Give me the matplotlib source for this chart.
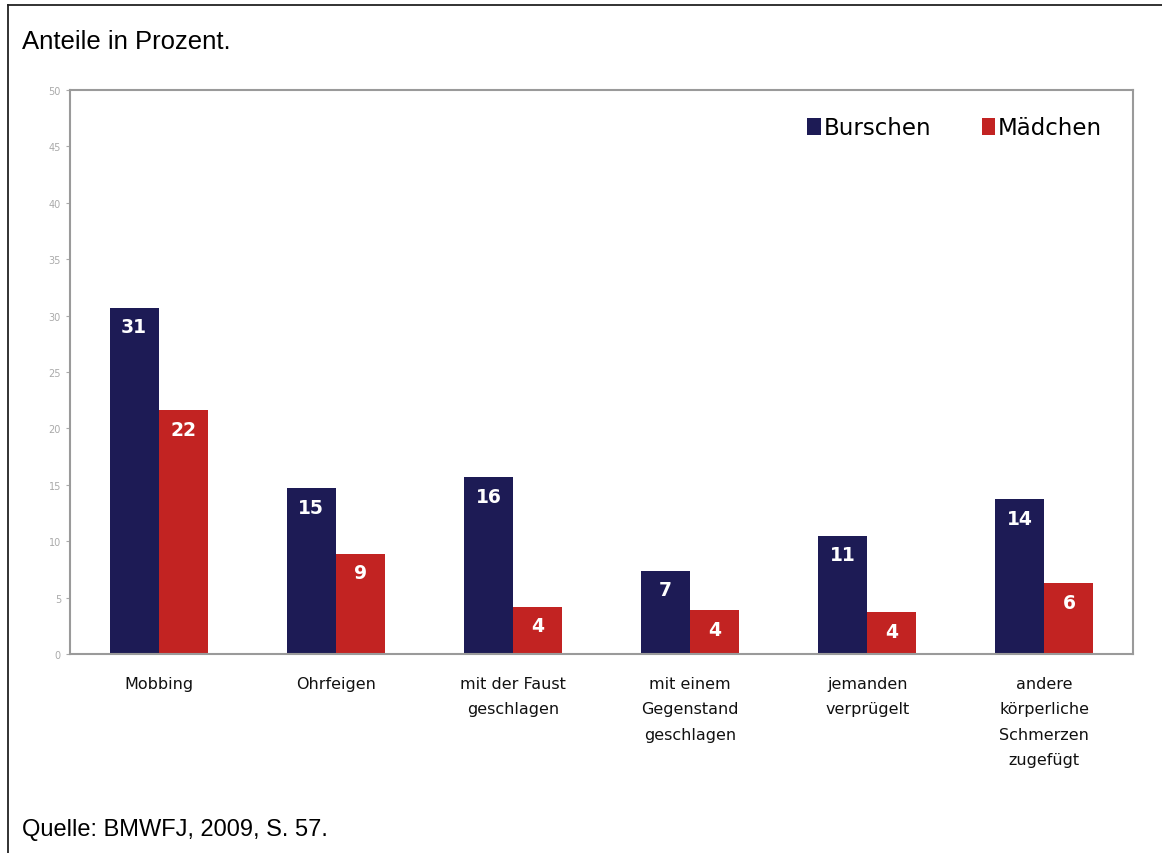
import numpy as np
import matplotlib
matplotlib.use("Agg")
import matplotlib.pyplot as plt
from matplotlib.lines import Line2D

categories = ["Mobbing", "Ohrfeigen", "mit der Faust\ngeschlagen",
              "mit einem\nGegenstand\ngeschlagen", "jemanden\nverprügelt",
              "andere\nkörperliche\nSchmerzen\nzugefügt"]
burschen = [30.7, 14.7, 15.7, 7.4, 10.5, 13.7]
maedchen = [21.6, 8.9, 4.2, 3.9, 3.7, 6.3]
burschen_lbl = [31, 15, 16, 7, 11, 14]
maedchen_lbl = [22, 9, 4, 4, 4, 6]

c_b = "#1d1b55"
c_m = "#c22322"

fig = plt.figure(figsize=(11.62, 8.54), dpi=100)
ax = fig.add_axes([70/1162, 1 - 655/854, (1133-70)/1162, (655-91)/854])

x = np.arange(len(categories))
w = 0.277
bb = ax.bar(x - w/2, burschen, w, color=c_b, label="Burschen")
bm = ax.bar(x + w/2, maedchen, w, color=c_m, label="Mädchen")

for bars, lbls in ((bb, burschen_lbl), (bm, maedchen_lbl)):
    for r, v in zip(bars, lbls):
        ax.annotate(str(v), (r.get_x() + r.get_width()/2, r.get_height()),
                    xytext=(0, -7), textcoords="offset points",
                    ha="center", va="top", color="white",
                    fontsize=13.5, fontweight="bold")

ax.set_xlim(-0.5, 5.5)
ax.set_ylim(0, 50)
ax.set_yticks(np.arange(0, 51, 5))
ax.tick_params(axis="y", labelsize=7, colors="#aaaaaa", length=3)
ax.tick_params(axis="x", length=0, labelsize=11.5, pad=16)
ax.set_xticks(x)
ax.set_xticklabels(categories, linespacing=1.85, color="#111111")
for s in ax.spines.values():
    s.set_color("#9a9a9a")
    s.set_linewidth(1.5)

leg = ax.legend(loc="upper right", ncol=2, frameon=False, fontsize=16.5,
                handlelength=0.6, handleheight=0.8, handletextpad=0.1,
                columnspacing=2.2, bbox_to_anchor=(0.99, 0.99))

fig.text(22/1162, 1 - 42/854, "Anteile in Prozent.", fontsize=18.5,
         family="Liberation Sans", stretch="normal", va="center")
fig.text(22/1162, 1 - 830/854, "Quelle: BMWFJ, 2009, S. 57.", fontsize=17,
         family="Liberation Sans", stretch="normal", va="center")

# frame lines of the scanned page (top and left only)
fig.add_artist(Line2D([8/1162, 1], [1 - 6/854, 1 - 6/854],
                      transform=fig.transFigure, color="#222222", lw=1.3))
fig.add_artist(Line2D([8/1162, 8/1162], [0, 1 - 6/854],
                      transform=fig.transFigure, color="#222222", lw=1.3))

fig.savefig("out.png", dpi=100)
